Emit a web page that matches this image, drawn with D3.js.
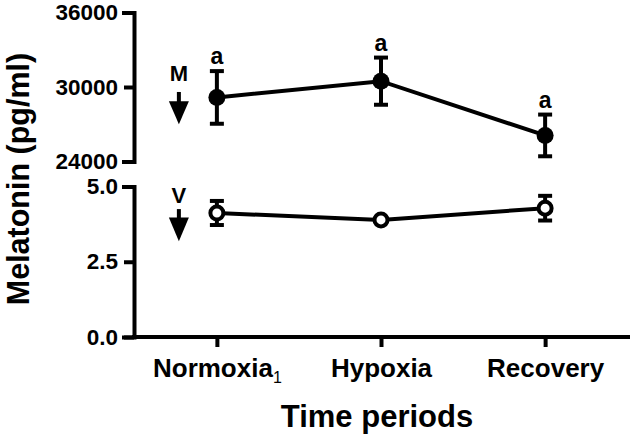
<!DOCTYPE html>
<html>
<head>
<meta charset="utf-8">
<script src="https://cdn.jsdelivr.net/npm/d3@7"></script>
<style>
  html, body { margin: 0; padding: 0; background: #fff; }
  svg { display: block; }
  svg text { font-family: "Liberation Sans", Arial, Helvetica, sans-serif; font-weight: bold; fill: #000; }
</style>
</head>
<body>
<svg id="chart" width="630" height="439"></svg>
<script>
// ---- data ----
const categories = ["Normoxia", "Hypoxia", "Recovery"];
const melatoninM = [29160, 30470, 26100];
const melatoninMSem = [2120, 1900, 1680];
const melatoninV = [4.12, 3.89, 4.28];
const melatoninVSem = [0.40, 0.07, 0.41];
const sigLetters = ["a", "a", "a"];
const topTicks = [24000, 30000, 36000];
const bottomTicks = [0, 2.5, 5.0];
const xTitle = "Time periods";
const yTitle = "Melatonin (pg/ml)";

const svg = d3.select("#chart");

const x = d3.scalePoint().domain(categories).range([134, 628]).padding(0.505);
const yTop = d3.scaleLinear().domain([24000, 36000]).range([161.5, 12.5]);
const yBot = d3.scaleLinear().domain([0, 5]).range([337, 186.5]);

const AX = 134;
const SW = 4;

// ---- axes ----
function styleAxis(g) {
  g.attr("font-family", null).attr("font-size", null);
  g.selectAll("path.domain").attr("stroke", "#000").attr("stroke-width", SW).attr("stroke-linecap", "square");
  g.selectAll(".tick line").attr("stroke", "#000").attr("stroke-width", SW);
  g.selectAll("text").attr("fill", "#000");
}

const gTop = svg.append("g").attr("transform", `translate(${AX},0)`)
  .call(d3.axisLeft(yTop).tickValues(topTicks).tickSize(10).tickSizeOuter(10).tickPadding(6).tickFormat(d3.format("d")));
styleAxis(gTop);
gTop.selectAll("text").style("font-size", "22.5px");

const gBot = svg.append("g").attr("transform", `translate(${AX},0)`)
  .call(d3.axisLeft(yBot).tickValues(bottomTicks).tickSize(10).tickSizeOuter(10).tickPadding(6).tickFormat(d3.format(".1f")));
styleAxis(gBot);
gBot.selectAll("text").style("font-size", "22.5px");

const gX = svg.append("g").attr("transform", `translate(0,${yBot(0)})`)
  .call(d3.axisBottom(x).tickSize(10).tickSizeOuter(0));
styleAxis(gX);
gX.selectAll("path.domain").attr("d", `M${AX},0H628`);
gX.selectAll(".tick text")
  .attr("y", 40).attr("dy", 0)
  .style("font-size", "26px")
  .each(function(d, i) {
    if (i === 0) {
      d3.select(this).append("tspan").attr("dy", 6).style("font-size", "16px").style("font-weight", "normal").text("1");
    }
  });

// ---- titles ----
svg.append("text")
  .attr("transform", `translate(29,179) rotate(-90)`)
  .attr("text-anchor", "middle")
  .style("font-size", "30.5px")
  .text(yTitle);

svg.append("text")
  .attr("x", 377).attr("y", 427)
  .attr("text-anchor", "middle")
  .style("font-size", "31px")
  .text(xTitle);

// ---- series helpers ----
function drawSeries(vals, sems, yS, filled) {
  const pts = categories.map((c, i) => ({ c, v: vals[i], s: sems[i] }));
  const g = svg.append("g");
  g.append("path")
    .datum(pts)
    .attr("fill", "none").attr("stroke", "#000").attr("stroke-width", SW)
    .attr("d", d3.line().x(d => x(d.c)).y(d => yS(d.v)));
  const eb = g.selectAll(".eb").data(pts).enter().append("g");
  eb.append("line")
    .attr("x1", d => x(d.c)).attr("x2", d => x(d.c))
    .attr("y1", d => yS(d.v + d.s)).attr("y2", d => yS(d.v - d.s))
    .attr("stroke", "#000").attr("stroke-width", SW);
  [1, -1].forEach(sg => {
    eb.append("line")
      .attr("x1", d => x(d.c) - 7).attr("x2", d => x(d.c) + 7)
      .attr("y1", d => yS(d.v + sg * d.s)).attr("y2", d => yS(d.v + sg * d.s))
      .attr("stroke", "#000").attr("stroke-width", SW);
  });
  g.selectAll(".pt").data(pts).enter().append("circle")
    .attr("cx", d => x(d.c)).attr("cy", d => yS(d.v))
    .attr("r", filled ? 8.5 : 6.5)
    .attr("fill", filled ? "#000" : "#fff")
    .attr("stroke", "#000").attr("stroke-width", filled ? 0 : SW);
  return pts;
}

const mPts = drawSeries(melatoninM, melatoninMSem, yTop, true);
drawSeries(melatoninV, melatoninVSem, yBot, false);

// significance letters
svg.selectAll(".sig").data(mPts).enter().append("text")
  .attr("x", d => x(d.c)).attr("y", d => yTop(d.v + d.s) - 7)
  .attr("text-anchor", "middle")
  .style("font-size", "23px")
  .text((d, i) => sigLetters[i]);

// ---- arrows M and V ----
function arrow(label, yS, labelVal, topVal, headVal, tipVal) {
  const ax = x(categories[0]) - 38;
  svg.append("text").attr("x", ax).attr("y", yS(labelVal))
    .attr("text-anchor", "middle").style("font-size", "22px").text(label);
  svg.append("line").attr("x1", ax).attr("x2", ax)
    .attr("y1", yS(topVal)).attr("y2", yS(headVal) + 1)
    .attr("stroke", "#000").attr("stroke-width", SW);
  svg.append("path")
    .attr("d", `M${ax - 10},${yS(headVal)}L${ax + 10},${yS(headVal)}L${ax},${yS(tipVal)}Z`)
    .attr("fill", "#000");
}
arrow("M", yTop, 30450, 29600, 28850, 27000);
arrow("V", yBot, 4.45, 4.25, 3.97, 3.18);
</script>
</body>
</html>
